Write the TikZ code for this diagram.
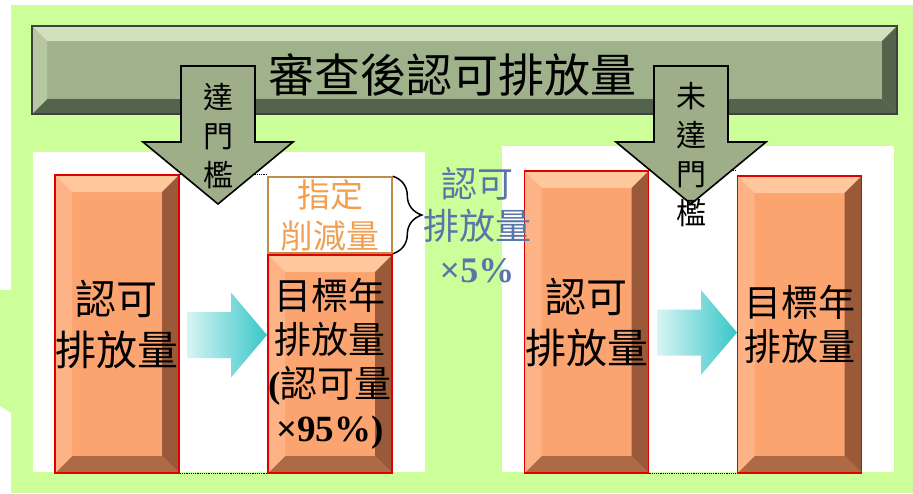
\documentclass[tikz,border=0pt]{standalone}
\usepackage{fontspec}
\newfontfamily\cjk{Noto Sans CJK TC}
\newfontfamily\latin{Liberation Serif}
\usetikzlibrary{positioning,calc,decorations.pathreplacing}

\definecolor{bggreen}{HTML}{CCFF99}
\definecolor{barfill}{HTML}{9FB28B}
\definecolor{barlight}{HTML}{D3E0BE}
\definecolor{barside}{HTML}{B6C7A1}
\definecolor{bardark}{HTML}{56634C}
\definecolor{boxfill}{HTML}{FCA470}
\definecolor{boxlight}{HTML}{FFC89C}
\definecolor{boxside}{HTML}{FDB386}
\definecolor{boxdark}{HTML}{9A5A3A}
\definecolor{boxred}{HTML}{E00000}
\definecolor{cutline}{HTML}{C38A4A}
\definecolor{cuttext}{HTML}{F2A050}
\definecolor{ratioblue}{HTML}{5877A8}
\definecolor{flowlight}{HTML}{D8F4F4}
\definecolor{flowdark}{HTML}{38C6C8}
\definecolor{gatefill}{HTML}{9DAE89}

\tikzset{
  bevel/.style n args={5}{path picture={
    \def\pbb{path picture bounding box}
    \fill[#2] (\pbb.north west) -- (\pbb.north east) -- ([xshift=-#1pt,yshift=-#1pt]\pbb.north east) -- ([xshift=#1pt,yshift=-#1pt]\pbb.north west) -- cycle;
    \fill[#3] (\pbb.north east) -- (\pbb.south east) -- ([xshift=-#1pt,yshift=#1pt]\pbb.south east) -- ([xshift=-#1pt,yshift=-#1pt]\pbb.north east) -- cycle;
    \fill[#4] (\pbb.south east) -- (\pbb.south west) -- ([xshift=#1pt,yshift=#1pt]\pbb.south west) -- ([xshift=-#1pt,yshift=#1pt]\pbb.south east) -- cycle;
    \fill[#5] (\pbb.south west) -- (\pbb.north west) -- ([xshift=#1pt,yshift=-#1pt]\pbb.north west) -- ([xshift=#1pt,yshift=#1pt]\pbb.south west) -- cycle;
  }},
  titlebar/.style={draw=black!75, line width=2pt, fill=barfill, minimum width=865pt, minimum height=88pt, inner sep=0pt, bevel={15}{barlight}{bardark}{bardark}{barside}},
  titletext/.style={font=\cjk\fontsize{46}{50}\selectfont, text=black, inner sep=0pt},
  gatearrow/.style={draw=black, line width=1.6pt, fill=gatefill, line join=miter},
  gatetext/.style={font=\cjk\fontsize{30}{39}\selectfont, align=center, inner sep=0pt},
  quota/.style={draw=boxred, line width=1.6pt, fill=boxfill, minimum width=124pt, inner sep=0pt, align=center, text=black, bevel={17}{boxlight}{boxdark}{boxdark!80!boxfill}{boxside}},
  bigtext/.style={font=\cjk\fontsize{41}{51}\selectfont},
  smalltext/.style={font=\cjk\fontsize{37}{44}\selectfont},
  cutbox/.style={draw=cutline, line width=1.6pt, fill=white, minimum width=124pt, minimum height=76pt, inner sep=0pt, align=center, text=cuttext, font=\cjk\fontsize{33}{41}\selectfont},
  guide/.style={draw=black, densely dotted, line width=1.2pt},
  bracket/.style={draw=black, line width=1.5pt, decorate, decoration={brace, amplitude=29pt}},
  ratiotext/.style={font=\cjk\fontsize{36}{42.5}\selectfont, text=ratioblue, align=center, inner sep=0pt},
  flow/.style={left color=flowlight, right color=flowdark}
}

\begin{document}
\begin{tikzpicture}[x=1pt,y=-1pt]
\useasboundingbox (0,0) rectangle (913,493);
\fill[bggreen] (11,5) -- (913,5) -- (913,493) -- (11,493) -- (11,413) -- (0,406) -- (0,290) -- (11,290) -- cycle;
\fill[white] (33,152) rectangle (425,472);
\fill[white] (502,146) rectangle (894,472);

\node[quota, bigtext, minimum height=298pt] (permitA) at (117,324) {認可\\排放量};
\node[cutbox] (cut) at (330,215) {指定\\削減量};
\node[quota, smalltext, minimum height=218pt] (targetA) at (330,364) {目標年\\排放量\\{\latin\bfseries (}認可量\\{\latin\bfseries ×95\%)}};
\node[quota, bigtext, minimum height=302pt] (permitB) at (586.5,322) {認可\\排放量};
\node[quota, smalltext, minimum height=297pt] (targetB) at (799.5,324.5) {目標年\\排放量};

\draw[guide] (permitA.north east) -- (permitA.north east -| cut.west);
\draw[guide] (permitA.south east) -- (targetA.south west);
\draw[guide] (permitB.north east) -- (permitB.north east -| targetB.west);
\draw[guide] (permitB.south east) -- (targetB.south west);

\draw[bracket] (cut.north east) -- (cut.south east);
\node[ratiotext] (ratio) at (477,225) {認可\\排放量\\{\latin\bfseries ×5\%}};

% flow arrows between the boxes
\coordinate (flowA) at (187,335);
\coordinate (flowB) at (657,332.5);
\foreach \f in {flowA,flowB}
  \shade[flow] ($(\f)+(0,-23)$) -- ++(44,0) -- ++(0,-19.5) -- ++(36,42.5) -- ++(-36,42.5) -- ++(0,-19.5) -- ++(-44,0) -- cycle;

\node[titlebar] (review) at (464.5,70) {};
\node[titletext] (reviewlabel) at ([xshift=-12pt,yshift=-5pt]review.center) {審查後認可排放量};

% threshold arrows
\coordinate (gateA) at (218,66);
\coordinate (gateB) at (691,66);
\foreach \g in {gateA,gateB}
  \draw[gatearrow] ($(\g)+(-37,0)$) -- ++(74,0) -- ++(0,76) -- ++(38,0) -- ++(-75,62) -- ++(-75,-62) -- ++(38,0) -- cycle;
\node[gatetext] (passA) at (218,136) {達\\門\\檻};
\node[gatetext] (passB) at (691,155) {未\\達\\門\\檻};
\end{tikzpicture}
\end{document}
